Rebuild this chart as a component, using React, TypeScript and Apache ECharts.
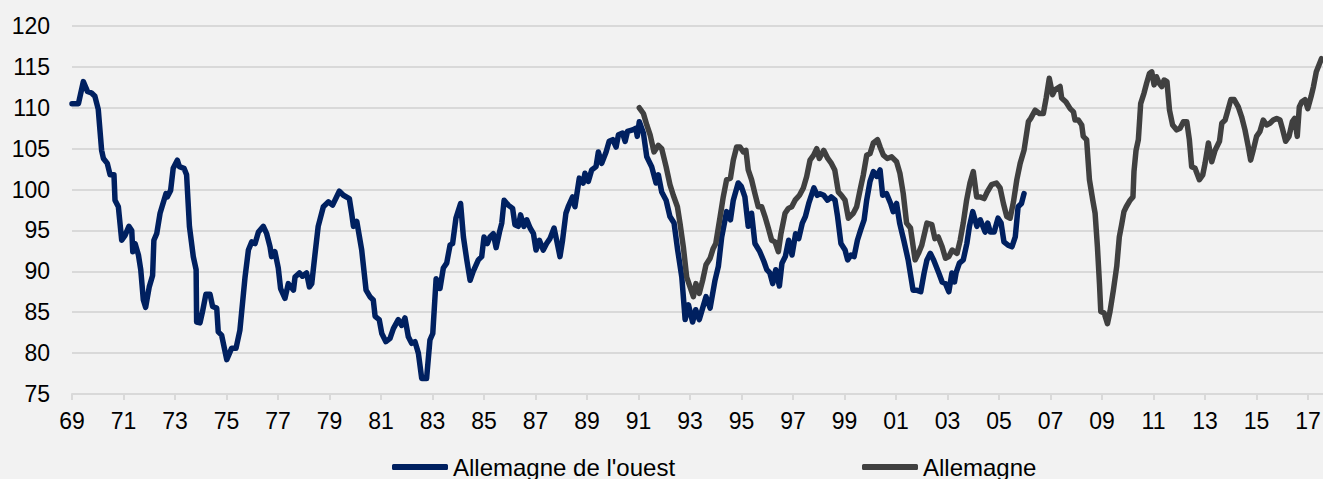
import React, { useEffect, useRef } from "react";
import * as echarts from "echarts";

// Time in years since January 1969
const westT = [
  0, 0.25, 0.44, 0.6, 0.76, 0.89, 1.02, 1.15, 1.22, 1.37, 1.48, 1.63, 1.67, 1.8, 1.93, 2.06, 2.21, 2.32, 2.36, 2.45,
  2.58, 2.67, 2.77, 2.86, 3.0, 3.13, 3.18, 3.29, 3.42, 3.65, 3.7, 3.83, 3.93, 4.09, 4.17, 4.35, 4.45, 4.56, 4.71, 4.82,
  4.84, 4.97, 5.07, 5.2, 5.36, 5.46, 5.62, 5.68, 5.81, 6.01, 6.2, 6.37, 6.52, 6.72, 6.85, 6.98, 7.11, 7.24, 7.43, 7.56,
  7.69, 7.75, 7.88, 8.01, 8.1, 8.27, 8.4, 8.6, 8.66, 8.83, 8.95, 9.11, 9.22, 9.31, 9.44, 9.56, 9.76, 9.96, 10.12, 10.38,
  10.54, 10.77, 10.86, 10.93, 11.06, 11.25, 11.42, 11.57, 11.7, 11.77, 11.93, 12.03, 12.19, 12.35, 12.48, 12.67, 12.8, 12.93, 13.06, 13.19,
  13.32, 13.45, 13.58, 13.77, 13.9, 14.01, 14.14, 14.29, 14.42, 14.55, 14.68, 14.78, 14.91, 15.09, 15.2, 15.33, 15.46, 15.58, 15.78, 15.91,
  16.0, 16.13, 16.23, 16.36, 16.47, 16.6, 16.69, 16.78, 16.94, 17.11, 17.2, 17.33, 17.42, 17.55, 17.66, 17.79, 17.92, 18.02, 18.15, 18.3,
  18.43, 18.56, 18.72, 18.82, 18.95, 19.05, 19.18, 19.27, 19.44, 19.53, 19.7, 19.85, 19.92, 20.05, 20.18, 20.35, 20.44, 20.57, 20.74, 20.86,
  21.0, 21.13, 21.22, 21.38, 21.48, 21.57, 21.77, 21.9, 21.95, 22.03, 22.19, 22.32, 22.51, 22.68, 22.77, 22.9, 23.07, 23.22, 23.38, 23.52,
  23.68, 23.81, 23.94, 24.1, 24.22, 24.36, 24.49, 24.62, 24.78, 24.97, 25.1, 25.23, 25.42, 25.57, 25.68, 25.87, 25.99, 26.13, 26.26, 26.39,
  26.52, 26.71, 26.87, 26.98, 27.1, 27.21, 27.33, 27.47, 27.57, 27.7, 27.83, 27.96, 28.1, 28.22, 28.36, 28.48, 28.61, 28.81, 28.94, 29.05,
  29.19, 29.34, 29.48, 29.63, 29.73, 29.86, 30.02, 30.12, 30.25, 30.37, 30.5, 30.63, 30.76, 30.86, 30.99, 31.12, 31.25, 31.38, 31.48, 31.63,
  31.79, 31.89, 32.02, 32.14, 32.3, 32.47, 32.66, 32.79, 32.96, 33.09, 33.2, 33.33, 33.46, 33.66, 33.79, 33.92, 34.05, 34.17, 34.27, 34.33,
  34.46, 34.61, 34.75, 34.85, 34.98, 35.14, 35.27, 35.46, 35.56, 35.66, 35.81, 35.96, 36.08, 36.19, 36.35, 36.5, 36.63, 36.74, 36.87, 36.97,
];
const westV = [
  110.5, 110.5, 113.2, 112, 111.8, 111.4, 109.8, 104.8, 103.8, 103.2, 101.8, 101.8, 98.7, 97.9, 93.8, 94.4, 95.5, 95.0, 92.4, 93.4,
  92.0, 90.2, 86.5, 85.6, 88.1, 89.5, 93.8, 94.6, 97.1, 99.5, 99.1, 99.9, 102.6, 103.6, 102.8, 102.6, 101.8, 95.5, 91.8, 90.2,
  83.8, 83.7, 85.1, 87.2, 87.2, 85.7, 85.5, 82.6, 82.2, 79.2, 80.6, 80.6, 82.8, 89.3, 92.6, 93.6, 93.4, 94.8, 95.5, 94.6,
  93.0, 91.8, 92.4, 90.4, 87.9, 86.7, 88.5, 87.7, 89.3, 89.8, 89.4, 89.8, 88.1, 88.5, 92.2, 95.5, 97.9, 98.5, 98.1, 99.8,
  99.3, 98.9, 97.1, 95.5, 96.1, 92.6, 87.7, 86.9, 86.5, 84.5, 84.1, 82.4, 81.4, 81.8, 83.0, 84.1, 83.4, 84.3, 82.0, 81.2,
  81.4, 80.0, 76.9, 76.9, 81.6, 82.4, 89.1, 87.9, 90.4, 91.0, 93.2, 93.4, 96.5, 98.3, 94.2, 91.4, 88.9, 90.0, 91.4, 91.8,
  94.2, 93.4, 94.2, 94.6, 92.9, 94.8, 95.9, 98.7, 98.1, 97.7, 95.7, 95.5, 96.9, 95.5, 96.3, 95.3, 94.6, 92.6, 93.8, 92.6,
  93.4, 94.0, 95.3, 93.8, 91.8, 93.8, 97.1, 97.9, 99.1, 97.9, 101.4, 100.8, 102.0, 101.0, 102.4, 102.8, 104.6, 103.2, 104.6, 105.9,
  106.1, 105.2, 106.7, 106.9, 105.9, 107.1, 107.3, 107.5, 106.5, 108.3, 106.9, 104.0, 102.8, 100.8, 101.8, 99.7, 98.7, 96.7, 95.9, 92.6,
  89.3, 84.1, 85.9, 83.8, 85.3, 84.1, 85.5, 86.9, 85.5, 88.9, 90.6, 94.2, 97.3, 96.3, 98.7, 100.8, 100.4, 99.1, 95.5, 97.1,
  93.4, 92.4, 91.2, 90.2, 89.8, 88.5, 90.2, 88.2, 91.0, 91.8, 93.8, 92.0, 94.6, 94.0, 95.9, 96.7, 98.3, 100.2, 99.3, 99.5,
  99.3, 98.7, 99.1, 98.7, 96.7, 93.4, 92.6, 91.4, 92.0, 91.8, 93.8, 95.1, 96.3, 98.7, 101.0, 102.2, 101.6, 102.4, 99.3, 99.5,
  98.3, 97.3, 98.3, 95.9, 93.8, 91.4, 87.7, 87.7, 87.5, 89.8, 91.4, 92.2, 91.4, 89.8, 88.7, 88.5, 87.5, 89.8, 88.7, 89.8,
  91.0, 91.4, 93.4, 95.5, 97.3, 95.5, 96.3, 94.8, 95.9, 94.8, 94.8, 96.5, 95.9, 93.6, 93.2, 93.0, 94.2, 97.9, 98.3, 99.5,
];

const gerT = [
  22.03, 22.19, 22.32, 22.45, 22.6, 22.77, 22.9, 23.07, 23.22, 23.35, 23.51, 23.61, 23.74, 23.87, 24.0, 24.13, 24.23, 24.36, 24.49, 24.62,
  24.78, 24.9, 25.0, 25.17, 25.29, 25.42, 25.57, 25.68, 25.81, 25.94, 26.07, 26.17, 26.26, 26.39, 26.52, 26.65, 26.78, 26.91, 27.04, 27.17,
  27.3, 27.43, 27.53, 27.69, 27.82, 27.95, 28.08, 28.25, 28.4, 28.53, 28.66, 28.8, 28.92, 29.02, 29.19, 29.35, 29.49, 29.62, 29.76, 29.88,
  30.02, 30.15, 30.34, 30.47, 30.6, 30.73, 30.86, 30.99, 31.12, 31.28, 31.38, 31.51, 31.66, 31.83, 32.02, 32.15, 32.28, 32.41, 32.56, 32.74,
  32.87, 33.0, 33.2, 33.39, 33.51, 33.64, 33.79, 33.92, 34.05, 34.18, 34.37, 34.49, 34.61, 34.74, 34.87, 35.0, 35.13, 35.26, 35.42, 35.54,
  35.71, 35.9, 36.04, 36.17, 36.3, 36.43, 36.56, 36.69, 36.82, 36.97, 37.14, 37.23, 37.4, 37.57, 37.72, 37.83, 37.95, 38.08, 38.17, 38.37,
  38.43, 38.6, 38.76, 38.89, 38.95, 39.08, 39.21, 39.27, 39.4, 39.51, 39.64, 39.73, 39.82, 39.9, 39.95, 40.08, 40.21, 40.31, 40.44, 40.57,
  40.67, 40.76, 40.85, 40.94, 41.09, 41.2, 41.24, 41.32, 41.41, 41.5, 41.63, 41.73, 41.84, 41.93, 42.02, 42.11, 42.22, 42.32, 42.41, 42.52,
  42.62, 42.74, 42.9, 43.03, 43.16, 43.29, 43.39, 43.48, 43.61, 43.78, 43.91, 44.0, 44.13, 44.26, 44.39, 44.56, 44.65, 44.78, 44.87, 45.0,
  45.13, 45.29, 45.42, 45.55, 45.68, 45.77, 45.87, 46.0, 46.13, 46.26, 46.39, 46.52, 46.65, 46.78, 46.91, 47.0, 47.13, 47.26, 47.39, 47.48,
  47.58, 47.66, 47.75, 47.88, 47.99, 48.12, 48.21, 48.32, 48.52,
];
const gerV = [
  110.0, 109.3, 107.9, 106.7, 104.6, 105.4, 105.0, 102.8, 100.6, 99.3, 97.9, 95.9, 93.0, 89.3, 88.1, 86.9, 88.5, 87.3, 88.9, 90.8,
  91.6, 92.8, 93.4, 96.7, 99.1, 101.2, 101.4, 103.6, 105.2, 105.2, 104.6, 104.8, 102.4, 101.2, 99.5, 97.9, 97.9, 96.7, 95.3, 93.8,
  93.6, 92.4, 94.6, 97.1, 97.7, 97.9, 98.7, 99.3, 100.2, 101.6, 103.6, 104.2, 105.0, 103.8, 104.8, 103.8, 103.2, 102.4, 99.7, 99.3,
  98.7, 96.5, 97.1, 97.9, 99.9, 101.8, 104.2, 104.4, 105.7, 106.1, 105.2, 104.2, 103.8, 104.0, 103.4, 102.0, 99.5, 95.9, 95.3, 91.4,
  92.2, 93.2, 95.9, 95.7, 94.0, 94.2, 93.0, 91.6, 91.8, 92.6, 92.2, 93.8, 95.9, 98.7, 100.8, 102.2, 99.1, 99.1, 98.9, 99.7,
  100.6, 100.8, 100.2, 98.3, 96.7, 96.5, 98.5, 101.2, 103.2, 104.8, 108.3, 108.7, 109.7, 109.3, 109.3, 111.2, 113.6, 111.6, 112.2, 112.6,
  111.2, 110.7, 109.9, 109.5, 108.5, 108.5, 107.9, 106.5, 106.1, 101.2, 98.7, 97.1, 93.0, 88.5, 85.1, 84.9, 83.6, 85.1, 87.7, 90.6,
  94.2, 95.7, 97.3, 97.9, 98.7, 99.1, 102.2, 104.8, 106.1, 110.5, 111.8, 113.0, 114.2, 114.4, 112.8, 113.8, 113.0, 112.6, 113.4, 113.2,
  109.7, 107.9, 107.3, 107.5, 108.3, 108.3, 106.1, 102.8, 102.6, 101.2, 101.8, 103.2, 105.7, 103.4, 104.8, 105.9, 108.1, 108.5, 109.5, 111.0,
  111.0, 110.1, 108.9, 107.3, 105.2, 103.6, 104.8, 106.5, 107.1, 108.5, 107.9, 108.1, 108.5, 108.7, 108.5, 107.5, 105.9, 106.5, 108.3, 108.7,
  106.5, 110.1, 110.7, 111.0, 109.9, 111.4, 112.6, 114.4, 116.0,
];

const seriesNames = ["Allemagne de l'ouest", "Allemagne"];
const seriesColors = ["#002060", "#404040"];
const startYear = 1969;
const yMin = 75;
const yMax = 120;
const yStep = 5;
const xStep = 2;
const xMax = 48.58;

const FONT = "'Liberation Sans', Arial, sans-serif";

export default function App() {
  const ref = useRef<HTMLDivElement>(null);

  useEffect(() => {
    document.body.style.margin = "0";
    document.body.style.background = "#f2f2f2";
    if (!ref.current) return;
    const chart = echarts.init(ref.current, undefined, { renderer: "svg" });
    const westData = westT.map((t, i) => [t, westV[i]]);
    const gerData = gerT.map((t, i) => [t, gerV[i]]);
    const gridColor = "#d9d9d9";

    const legendBase = {
      top: 455,
      padding: 0,
      icon: "roundRect",
      itemWidth: 56,
      itemHeight: 6,
      textStyle: { fontSize: 24, color: "#000", fontFamily: FONT },
    };

    chart.setOption({
      animation: false,
      backgroundColor: "#f2f2f2",
      grid: { left: 72, right: 0, top: 26, bottom: 85, containLabel: false, outerBoundsMode: "none" },
      xAxis: {
        type: "value",
        min: 0,
        max: xMax,
        interval: xStep,
        axisLine: { show: true, lineStyle: { color: gridColor, width: 2 } },
        axisTick: { show: true, length: 6, lineStyle: { color: gridColor, width: 2 } },
        splitLine: { show: false },
        axisLabel: {
          margin: 15,
          color: "#000",
          fontSize: 23,
          fontFamily: FONT,
          showMaxLabel: false,
          formatter: (v: number) => {
            if (Math.abs(v - Math.round(v)) > 1e-6) return "";
            return String((startYear + Math.round(v)) % 100).padStart(2, "0");
          },
        },
      },
      yAxis: {
        type: "value",
        min: yMin,
        max: yMax,
        interval: yStep,
        axisLine: { show: false },
        axisTick: { show: false },
        splitLine: { show: true, lineStyle: { color: gridColor, width: 2 } },
        axisLabel: { margin: 22, color: "#000", fontSize: 23, fontFamily: FONT },
      },
      legend: [
        { ...legendBase, data: [seriesNames[0]], left: 392 },
        { ...legendBase, data: [seriesNames[1]], left: 862 },
      ],
      series: [
        {
          name: seriesNames[0],
          type: "line",
          data: westData,
          showSymbol: false,
          symbol: "none",
          color: seriesColors[0],
          lineStyle: { width: 5.5, color: seriesColors[0], cap: "round", join: "round" },
        },
        {
          name: seriesNames[1],
          type: "line",
          data: gerData,
          showSymbol: false,
          symbol: "none",
          color: seriesColors[1],
          lineStyle: { width: 5.5, color: seriesColors[1], cap: "round", join: "round" },
        },
      ],
    });
    return () => chart.dispose();
  }, []);

  return <div ref={ref} style={{ width: 1323, height: 479, background: "#f2f2f2" }} />;
}
